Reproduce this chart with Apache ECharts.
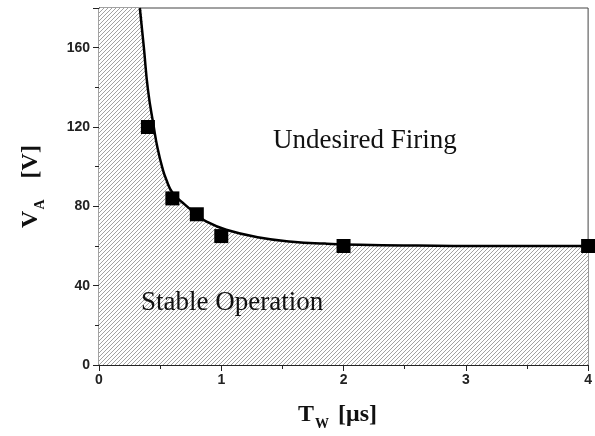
<!DOCTYPE html>
<html>
<head>
<meta charset="utf-8">
<script src="https://cdn.jsdelivr.net/npm/echarts@6/dist/echarts.min.js"></script>
<style>
    html, body { margin: 0; padding: 0; background: #fff; }
    #myChart { width: 595px; height: 436px; }
</style>
</head>
<body>
<div id="myChart"></div>
<script>
// measured points (black squares)
const markerX = [0.4, 0.6, 0.8, 1.0, 2.0, 4.0]
const markerY = [120, 84, 76, 65, 60, 60]
// boundary curve
const curveX = [0.334, 0.367, 0.40, 0.448, 0.48, 0.52, 0.55, 0.60, 0.70, 0.80, 0.88, 1.04, 1.31, 1.58, 1.85, 2.13, 2.6, 3.2, 4.0]
const curveY = [180, 160, 139, 120, 109, 99, 93.5, 87, 81, 76, 72.3, 68.2, 64.3, 62.2, 61.2, 60.6, 60.2, 60, 60]
const xTicks = [0, 1, 2, 3, 4]
const yTicks = [0, 40, 80, 120, 160]

const serif = '"Liberation Serif", "DejaVu Serif", serif'
const sans = '"Liberation Sans", Arial, sans-serif'

// hatch pattern for the stable region
function hatch () {
    let c = document.createElement('canvas')
    c.width = 4
    c.height = 4
    let ctx = c.getContext('2d')
    ctx.fillStyle = '#fff'
    ctx.fillRect(0, 0, 4, 4)
    ctx.strokeStyle = '#8a8a8a'
    ctx.lineWidth = 0.8
    ctx.beginPath()
    ctx.moveTo(0, 4)
    ctx.lineTo(4, 0)
    ctx.moveTo(-1, 1)
    ctx.lineTo(1, -1)
    ctx.moveTo(3, 5)
    ctx.lineTo(5, 3)
    ctx.stroke()
    return c
}

const nameRich = {
    b: { fontFamily: serif, fontSize: 24, fontWeight: 'bold', color: '#111' },
    s: { fontFamily: serif, fontSize: 14, fontWeight: 'bold', color: '#111', padding: [18, 3, 0, 1] }
}

let curve = curveX.map((x, i) => [x, curveY[i]])
let area = [[0, 180]].concat(curve)
let points = markerX.map((x, i) => [x, markerY[i]])

let myChart = echarts.init(document.getElementById('myChart'))
myChart.setOption({
    animation: false,
    grid: {
        left: 99,
        right: 5,
        top: 8,
        bottom: 69,
        show: true,
        borderColor: '#444',
        borderWidth: 1
    },
    xAxis: {
        type: 'value',
        min: 0,
        max: 4,
        interval: 1,
        name: '{b|T}{s|W}{b| [μs]}',
        nameLocation: 'middle',
        nameGap: 34,
        nameTextStyle: { padding: [0, 12, 0, 0], rich: nameRich },
        axisLine: { lineStyle: { color: '#222', width: 1 } },
        axisTick: { inside: false, length: 6, lineStyle: { color: '#222' } },
        minorTick: { show: true, splitNumber: 2, length: 4, lineStyle: { color: '#222' } },
        splitLine: { show: false },
        axisLabel: {
            margin: 8,
            fontFamily: sans,
            fontSize: 14,
            fontWeight: 'bold',
            color: '#222',
            formatter: v => xTicks.indexOf(v) >= 0 ? String(v) : ''
        }
    },
    yAxis: {
        type: 'value',
        min: 0,
        max: 180,
        interval: 40,
        name: '{b|V}{s|A}{b|   [V]}',
        nameLocation: 'middle',
        nameGap: 52,
        nameRotate: 90,
        nameTextStyle: { rich: nameRich },
        axisLine: { lineStyle: { color: '#222', width: 1 } },
        axisTick: { inside: false, length: 6, lineStyle: { color: '#222' } },
        minorTick: { show: true, splitNumber: 2, length: 4, lineStyle: { color: '#222' } },
        splitLine: { show: false },
        axisLabel: {
            margin: 9,
            fontFamily: sans,
            fontSize: 14,
            fontWeight: 'bold',
            color: '#222',
            formatter: v => yTicks.indexOf(v) >= 0 ? String(v) : ''
        }
    },
    graphic: [{
        type: 'text',
        left: 273,
        top: 127,
        z: 100,
        style: { text: 'Undesired Firing', font: '27px ' + serif, fill: '#111' }
    }, {
        type: 'text',
        left: 141,
        top: 289,
        z: 100,
        style: { text: 'Stable Operation', font: '27px ' + serif, fill: '#111' }
    }],
    series: [{
        type: 'line',
        data: area,
        smooth: 0.5,
        showSymbol: false,
        lineStyle: { width: 0 },
        areaStyle: { color: { image: hatch(), repeat: 'repeat' }, opacity: 1 },
        z: 1
    }, {
        type: 'line',
        data: curve,
        smooth: 0.5,
        showSymbol: false,
        lineStyle: { color: '#000', width: 2.5 },
        z: 3
    }, {
        type: 'scatter',
        data: points,
        symbol: 'rect',
        symbolSize: 14,
        itemStyle: { color: '#000', opacity: 1 },
        z: 4
    }]
})
</script>
</body>
</html>
